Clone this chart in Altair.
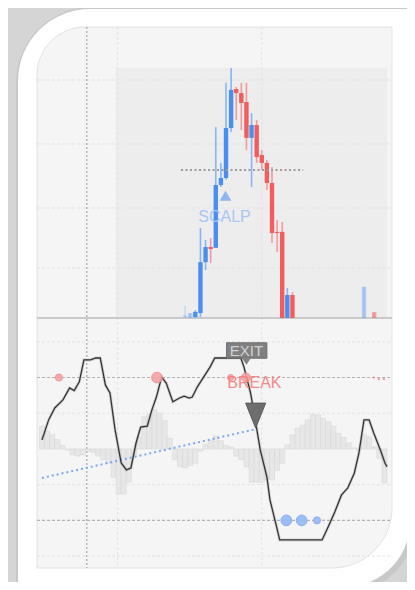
import altair as alt
import pandas as pd

# ---------------- data ----------------
# price panel candles (bar index, open, high, low, close, opacity)
cndl_i     = [28, 29, 30, 31, 32, 33, 34, 35, 36, 37, 38, 39, 40, 41, 42, 43, 44, 45, 46, 47, 48, 49, 63, 65]
cndl_open  = [0.3, 0.0, 0.3, 1.7, 19.2, 24.4, 24.1, 45.7, 48.1, 65.3, 78.7, 77.3, 74.2, 61.9, 66.3, 56.0, 53.3, 46.4, 29.6, 29.6, 0.0, 7.9, 0.0, 2.0]
cndl_close = [0.8, 1.7, 2.1, 19.2, 24.4, 23.7, 45.7, 48.1, 65.3, 78.4, 77.3, 73.9, 61.9, 66.3, 55.3, 53.3, 46.4, 29.2, 29.2, 0.0, 7.9, 0.0, 10.7, 0.0]
cndl_high  = [4.1, 1.7, 2.7, 30.9, 26.8, 27.5, 65.6, 53.3, 80.8, 85.9, 79.4, 80.8, 80.8, 70.4, 68.0, 57.7, 54.3, 51.9, 33.7, 33.0, 10.3, 8.9, 10.7, 2.0]
cndl_low   = [0.0, 0.0, 0.0, 0.3, 16.5, 18.9, 24.1, 45.0, 47.5, 63.9, 68.0, 64.6, 57.7, 45.0, 53.3, 50.9, 44.0, 25.8, 22.7, 0.0, 0.0, 0.0, 0.0, 0.0]
cndl_alpha = [0.35, 0.35] + [1.0] * 20 + [0.35, 0.5]

price_grid = [17.2, 37.8, 59.8, 81.8]
shade_x = [14.4, 67.5]
shade_p = [0.0, 86.0]
level_x = [27.2, 51.1]
level_p = 50.9
scalp_x, scalp_p = 35.9, 42.0
scalp_text_x, scalp_text_p = 35.7, 34.7

vgrid_x = [14.8, 43.0]
cursor_x = 8.75

# oscillator panel
osc_x = [0, 1.3, 2.5, 4.1, 5.4, 6.3, 7.3, 8.2, 9.5, 10.5, 11.4, 12.4, 13.3, 14.3, 15.5, 16.5, 17.4, 18.4,
         19.3, 20.6, 21.5, 22.4, 23.4, 24.3, 25.6, 26.9, 27.8, 28.8, 29.4, 30.4, 31.9, 32.9, 33.8, 38.9,
         39.5, 40.8, 41.4, 42.7, 44.0, 44.6, 45.9, 46.5, 54.8, 56.0, 57.3, 58.6, 59.8, 61.1, 62.0, 63.0,
         64.0, 64.9, 66.2, 67.1, 67.5]
osc_v = [53.8, 62.2, 67.2, 70.6, 75.6, 74.5, 78.2, 87.4, 87.4, 88.2, 88.2, 76.9, 73.5, 58.0, 44.1, 41.2, 42.0, 52.5,
         59.2, 59.6, 66.4, 71.9, 80.2, 77.7, 69.8, 71.4, 72.2, 71.4, 71.8, 76.1, 81.1, 84.5, 88.2, 88.2,
         84.5, 73.5, 66.4, 49.6, 38.3, 28.6, 17.3, 11.8, 11.8, 17.3, 23.6, 30.7, 33.5, 39.8, 48.2, 62.2,
         62.2, 56.7, 49.6, 44.1, 42.5]

hist_x = list(range(68))
hist_v = [59.6, 57.5, 56.0, 54.0, 51.5, 49.5, 47.5, 47.0, 47.5, 49.0, 48.5, 47.0, 45.5, 44.0, 38.0, 31.0, 31.0,
          36.0, 47.5, 55.0, 63.5, 64.5, 66.5, 65.0, 62.0, 54.5, 45.5, 42.5, 42.0, 43.0, 44.0, 49.0, 52.0,
          53.5, 55.5, 53.5, 51.5, 50.8, 47.0, 45.5, 42.5, 36.0, 36.0, 36.0, 37.0, 37.0, 41.0, 44.0, 51.7,
          55.9, 58.7, 60.0, 62.2, 64.6, 64.3, 62.9, 61.4, 59.6, 56.6, 54.9, 52.6, 50.5, 49.5, 55.9, 55.1,
          50.9, 46.0, 35.8]
hist_base = 50

osc_faint = [5, 35, 65, 95]
osc_dashed = [20, 80]
trend_x = [0, 42]
trend_v = [37.8, 58.4]
red_x = [3.3, 22.5, 36.9, 39.9]
red_v = [80, 80, 80, 80]
red_s = [50, 115, 36, 80]
reddot_x = [64.9, 65.9, 66.9]
reddot_v = [80, 79.3, 79.3]
blue_x = [47.8, 50.8, 53.8]
blue_v = [20, 20, 20]
blue_s = [115, 115, 50]
exit_x = [36.1, 44.0]
exit_v = [88.1, 94.6]
exit_text_x, exit_text_v = 40.0, 91.35
pointer_x, pointer_v = 40.0, 86.6
break_x, break_v = 41.55, 77.7
down_x, down_v = 41.8, 64.0

# ---------------- layout helpers ----------------
W, H = 355, 541
FONT = "Liberation Sans"
xs = alt.Scale(domain=[0, 67.5], nice=False, zero=False)


def X(f):
    return alt.X(f, type="quantitative", scale=xs, axis=None)


def PY(f):
    return alt.Y(f, type="quantitative",
                 scale=alt.Scale(domain=[0, 100], range=[291, 0], nice=False, zero=False), axis=None)


def OY(f):
    return alt.Y(f, type="quantitative",
                 scale=alt.Scale(domain=[0, 105], range=[541, 291], nice=False, zero=False), axis=None)


one = pd.DataFrame({"k": [0]})

# ---------------- decoration ----------------
shadow = alt.Chart(one).mark_rect(fill="#c4c4c4", opacity=0.8, cornerRadiusTopLeft=76,
                                  cornerRadiusBottomRight=68).encode(
    x=alt.value(-21), x2=alt.value(378), y=alt.value(-20), y2=alt.value(565))
frame = alt.Chart(one).mark_rect(fill="#ffffff", cornerRadiusTopLeft=72,
                                 cornerRadiusBottomRight=65).encode(
    x=alt.value(-19), x2=alt.value(373), y=alt.value(-18), y2=alt.value(560))
inner = alt.Chart(one).mark_rect(fill="#f5f5f5", stroke="#e2e2e2", strokeWidth=1,
                                 cornerRadiusTopLeft=48, cornerRadiusBottomRight=60).encode(
    x=alt.value(0), x2=alt.value(W), y=alt.value(0), y2=alt.value(H))

shade_df = pd.DataFrame({"x": [shade_x[0]], "x2": [shade_x[1]], "p": [shade_p[0]], "p2": [shade_p[1]]})
shade = alt.Chart(shade_df).mark_rect(fill="#ededed").encode(
    x=X("x"), x2="x2", y=PY("p"), y2="p2")

pgrid = alt.Chart(pd.DataFrame({"p": price_grid})).mark_rule(
    color="#e3e3e3", strokeDash=[3, 2], strokeWidth=1).encode(
    y=PY("p"), x=alt.value(0), x2=alt.value(W))

vgrid = alt.Chart(pd.DataFrame({"x": vgrid_x})).mark_rule(
    color="#e3e3e3", strokeDash=[3, 2], strokeWidth=1).encode(
    x=X("x"), y=alt.value(0), y2=alt.value(H))

cursor = alt.Chart(pd.DataFrame({"x": [cursor_x]})).mark_rule(
    color="#b8b8b8", strokeDash=[2, 2], strokeWidth=1.6).encode(
    x=X("x"), y=alt.value(0), y2=alt.value(H))

sep = alt.Chart(pd.DataFrame({"p": [0.0]})).mark_rule(color="#c9c9c9", strokeWidth=2).encode(
    y=PY("p"), x=alt.value(0), x2=alt.value(W))

ofaint = alt.Chart(pd.DataFrame({"v": osc_faint})).mark_rule(
    color="#e3e3e3", strokeDash=[3, 2], strokeWidth=1).encode(
    y=OY("v"), x=alt.value(0), x2=alt.value(W))
odash = alt.Chart(pd.DataFrame({"v": osc_dashed})).mark_rule(
    color="#b3b3b3", strokeDash=[3, 2], strokeWidth=1.2).encode(
    y=OY("v"), x=alt.value(0), x2=alt.value(W))

# ---------------- oscillator panel ----------------
hist_df = pd.DataFrame({"x": hist_x, "v": hist_v, "b": [hist_base] * len(hist_x)})
hist = alt.Chart(hist_df).mark_bar(size=5, fill="#e6e6e6", stroke="#d4d4d4", strokeWidth=0.5,
                                   opacity=0.9).encode(x=X("x"), y=OY("v"), y2="b")

trend = alt.Chart(pd.DataFrame({"x": trend_x, "v": trend_v})).mark_line(
    color="#7aa8f0", strokeDash=[2, 3], strokeWidth=2).encode(x=X("x"), y=OY("v"))

osc_df = pd.DataFrame({"x": osc_x, "v": osc_v})
osc_halo = alt.Chart(osc_df).mark_line(color="#a0a0a0", strokeWidth=3, opacity=0.4).encode(
    x=X("x"), y=OY("v"))
osc_line = alt.Chart(osc_df).mark_line(color="#333333", strokeWidth=1.3).encode(
    x=X("x"), y=OY("v"))

red_pts = alt.Chart(pd.DataFrame({"x": red_x, "v": red_v, "s": red_s})).mark_point(
    shape="circle", filled=True, fill="#f6a3a3", stroke="#f08a8a", strokeWidth=1, opacity=0.9).encode(
    x=X("x"), y=OY("v"), size=alt.Size("s:Q", scale=None))
red_dots = alt.Chart(pd.DataFrame({"x": reddot_x, "v": reddot_v})).mark_point(
    shape="circle", filled=True, color="#f08a8a", size=5, opacity=0.9).encode(
    x=X("x"), y=OY("v"))
blue_pts = alt.Chart(pd.DataFrame({"x": blue_x, "v": blue_v, "s": blue_s})).mark_point(
    shape="circle", filled=True, fill="#93b9f3", stroke="#7ea9ee", strokeWidth=1, opacity=0.9).encode(
    x=X("x"), y=OY("v"), size=alt.Size("s:Q", scale=None))

# ---------------- price panel candles ----------------
cdf = pd.DataFrame({"x": cndl_i, "o": cndl_open, "c": cndl_close, "h": cndl_high,
                    "l": cndl_low, "a": cndl_alpha})
cdf["body"] = ["#4a8ff0" if c >= o else "#f25c5c" for o, c in zip(cdf["o"], cdf["c"])]
cdf["wick"] = ["#86b4f4" if c >= o else "#f59a9a" for o, c in zip(cdf["o"], cdf["c"])]

wicks = alt.Chart(cdf).mark_rule(strokeWidth=1.6).encode(
    x=X("x"), y=PY("l"), y2="h",
    color=alt.Color("wick:N", scale=None), opacity=alt.Opacity("a:Q", scale=None))
bodies = alt.Chart(cdf).mark_bar(size=4.4).encode(
    x=X("x"), y=PY("o"), y2="c",
    color=alt.Color("body:N", scale=None), opacity=alt.Opacity("a:Q", scale=None))

level = alt.Chart(pd.DataFrame({"x": level_x, "p": [level_p, level_p]})).mark_line(
    color="#9c9c9c", strokeDash=[2, 2.5], strokeWidth=2).encode(x=X("x"), y=PY("p"))

scalp_tri = alt.Chart(pd.DataFrame({"x": [scalp_x], "p": [scalp_p]})).mark_point(
    shape="M0,-0.85L1,0.85L-1,0.85Z", size=137, filled=True, color="#8fb6f1", opacity=1).encode(
    x=X("x"), y=PY("p"))
scalp_txt = alt.Chart(pd.DataFrame({"x": [scalp_text_x], "p": [scalp_text_p]})).mark_text(
    text="SCALP", font=FONT, fontSize=16, color="#a8c6f2", align="center", baseline="middle").encode(
    x=X("x"), y=PY("p"))

# ---------------- oscillator annotations ----------------
exit_box = alt.Chart(pd.DataFrame({"x": [exit_x[0]], "x2": [exit_x[1]], "v": [exit_v[0]],
                                   "v2": [exit_v[1]]})).mark_rect(
    fill="#7a7a7a", stroke="#6a6a6a", strokeWidth=1, opacity=0.95).encode(
    x=X("x"), x2="x2", y=OY("v"), y2="v2")
exit_ptr = alt.Chart(pd.DataFrame({"x": [pointer_x], "v": [pointer_v]})).mark_point(
    shape="M-1,-0.75L1,-0.75L0,0.75Z", size=64, filled=True, color="#7a7a7a", opacity=0.95).encode(
    x=X("x"), y=OY("v"))
exit_txt = alt.Chart(pd.DataFrame({"x": [exit_text_x], "v": [exit_text_v]})).mark_text(
    text="EXIT", font=FONT, fontSize=15, color="#d2d2d2", align="center", baseline="middle").encode(
    x=X("x"), y=OY("v"))
break_txt = alt.Chart(pd.DataFrame({"x": [break_x], "v": [break_v]})).mark_text(
    text="BREAK", font=FONT, fontSize=16, color="#f47f7f", opacity=0.9, align="center",
    baseline="middle").encode(x=X("x"), y=OY("v"))
down_tri = alt.Chart(pd.DataFrame({"x": [down_x], "v": [down_v]})).mark_point(
    shape="M-1,-1.25L1,-1.25L0,1.25Z", size=400, filled=True, color="#6e6e6e", stroke="#5a5a5a",
    strokeWidth=1, opacity=1).encode(x=X("x"), y=OY("v"))

chart = alt.layer(
    shadow, frame, inner, shade, pgrid, vgrid, cursor, sep, ofaint, odash,
    hist, trend, osc_halo, osc_line, red_pts, red_dots, blue_pts,
    wicks, bodies, level, scalp_tri, scalp_txt,
    exit_box, exit_ptr, exit_txt, break_txt, down_tri,
).resolve_scale(y="independent").properties(
    width=W, height=H,
    autosize=alt.AutoSizeParams(type="none"),
    padding={"left": 29, "top": 19, "right": 15, "bottom": 14},
    background="#d5d5d5",
).configure_view(stroke=None)

chart.save("out.html", embed_options={"renderer": "svg", "actions": False})
